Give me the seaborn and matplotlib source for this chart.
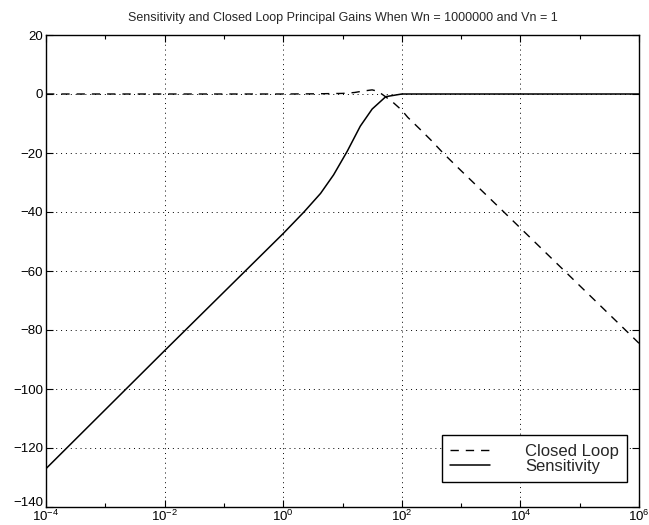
import numpy as np
import pandas as pd
import matplotlib
matplotlib.use('Agg')
import matplotlib.pyplot as plt
import matplotlib.ticker as mticker
import matplotlib.transforms as mtransforms
import seaborn as sns

# frequency (log10) and gain in dB
cl_logw = [-4, -2, 0, 0.5, 1.0, 1.2, 1.35, 1.5, 1.6, 1.73, 1.85, 2.0, 2.1, 2.3,
           2.5, 2.71, 3.0, 3.67, 4.74, 5.75, 6.0]
cl_db = [0, 0, 0, 0.05, 0.2, 0.5, 1.0, 1.4, 0.9, -1.0, -2.8, -5.5, -7.9, -11.8,
         -15.8, -20.3, -26.0, -39.0, -59.9, -79.6, -84.5]

sens_logw = [-4, -2, 0, 0.35, 0.63, 0.85, 1.08, 1.3, 1.5, 1.73, 2.0, 3.0, 6.0]
sens_db = [-127, -87, -47.3, -40, -33.7, -27.4, -19.4, -10.9, -5.1, -0.9, 0, 0, 0]

title = 'Sensitivity and Closed Loop Principal Gains When Wn = 1000000 and Vn = 1'

sns.set_theme(style='ticks')
plt.rcParams['font.family'] = ['Liberation Sans', 'DejaVu Sans']
plt.rcParams['xtick.direction'] = 'in'
plt.rcParams['ytick.direction'] = 'in'

cl = pd.DataFrame({'w': 10.0 ** np.array(cl_logw), 'dB': cl_db})
sens = pd.DataFrame({'w': 10.0 ** np.array(sens_logw), 'dB': sens_db})

fig = plt.figure(figsize=(6.49, 5.25), dpi=100)
ax = fig.add_axes([46 / 649, 1 - 507 / 525, 593 / 649, 472 / 525])

sns.lineplot(data=cl, x='w', y='dB', ax=ax, color='black', lw=1.0,
             linestyle=(0, (6, 5)), label='Closed Loop')
sns.lineplot(data=sens, x='w', y='dB', ax=ax, color='black', lw=1.1,
             label='Sensitivity')

ax.set_xscale('log')
ax.set_xlim(1e-4, 1e6)
ax.set_ylim(-140, 20)
ax.set_xticks([10.0 ** k for k in range(-4, 7, 2)])
ax.xaxis.set_major_formatter(mticker.LogFormatterSciNotation())
ax.xaxis.set_minor_locator(mticker.FixedLocator([10.0 ** k for k in range(-3, 6, 2)]))
ax.xaxis.set_minor_formatter(mticker.NullFormatter())
ax.set_yticks(np.arange(-140, 21, 20))
ax.set_xlabel('')
ax.set_ylabel('')

ax.grid(True, which='major', color='black', linestyle=(0, (1, 4)), lw=0.7)
ax.tick_params(which='both', top=True, right=True, labelsize=9.5, colors='black',
               width=0.8)
ax.tick_params(axis='y', pad=2)
ax.tick_params(axis='x', pad=1)
ax.tick_params(which='major', length=5)
ax.tick_params(which='minor', length=3)
for s in ax.spines.values():
    s.set_color('black')
    s.set_linewidth(1.0)

# lift the bottom y label a little so it clears the 10^-4 label
lab = ax.get_yticklabels()[0]
lab.set_transform(lab.get_transform() +
                  mtransforms.ScaledTranslation(0, 5 / 100, fig.dpi_scale_trans))

ax.set_title(title, fontsize=9, pad=10)

leg = ax.legend(loc='lower right', bbox_to_anchor=(0.98, 0.053), borderaxespad=0,
                fontsize=12, handlelength=2.4, handletextpad=2.1, labelspacing=0.0,
                borderpad=0.5, fancybox=False, framealpha=1, edgecolor='black')
leg.get_frame().set_linewidth(1.0)

fig.savefig('out.png', dpi=100)
